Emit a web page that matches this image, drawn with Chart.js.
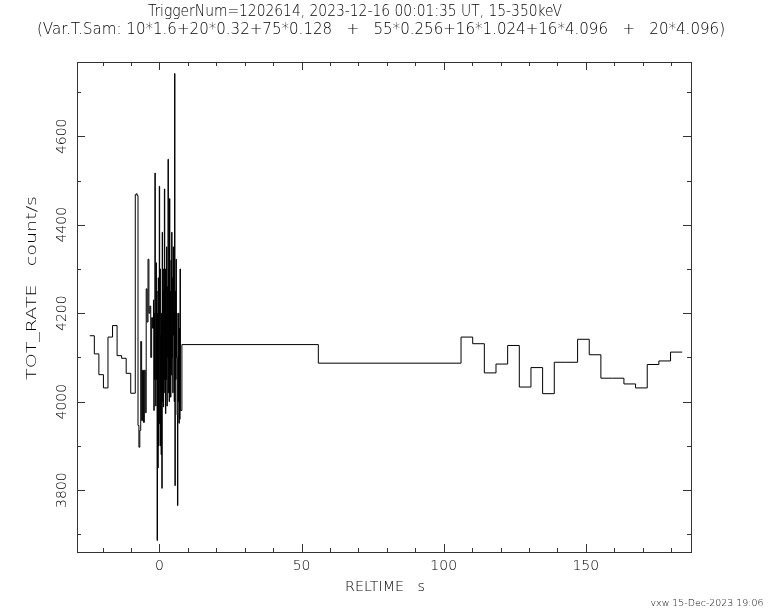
<!DOCTYPE html>
<html>
<head>
<meta charset="utf-8">
<script src="https://cdn.jsdelivr.net/npm/chart.js@4/dist/chart.umd.min.js"></script>
<style>
  body { margin: 0; background: #fff; }
  canvas { display: block; }
</style>
</head>
<body>
<canvas id="grafico" width="768" height="614"></canvas>
<script>
// Amostragem (Var.T.Sam): 10*1.6 + 20*0.32 + 75*0.128, depois bins lentos
const inicioPre = -24.5;
const passos = [1.6, 0.32, 0.128];

const taxaPre = [4149, 4108, 4061, 4031, 4146, 4172, 4104, 4098, 4064, 4019];

const taxa032 = [4468, 4470, 4466, 3946, 3897, 3935, 4136, 3957, 4071, 3953,
                 4071, 3975, 4255, 4180, 4322, 4200, 4216, 4100, 4190, 4166];

const taxa0128 = [4230, 3980, 4200, 4050, 4517, 4100, 3990, 4314, 4050, 4250,
                  3686, 4200, 3850, 4280, 3900, 4150, 4487, 3950, 4300, 3900,
                  4150, 3880, 4200, 3804, 4383, 4000, 4250, 3988, 4300, 4050,
                  4481, 4020, 4300, 3973, 4200, 4050, 4350, 3990, 4260, 4100,
                  4548, 4020, 4300, 4000, 4459, 4080, 4250, 4010, 4320, 4060,
                  4383, 4100, 4280, 4020, 4350, 4150, 4200, 4000, 4742, 3810,
                  4250, 4050, 4322, 4100, 4200, 3970, 3765, 4100, 4000, 4200,
                  3951, 4166, 3960, 4300, 3980];

// bins longos (4.096 s) e os dois trechos planos
const tempoLento = [7.9, 55.9, 106.1, 110.2, 114.3, 118.4, 122.5, 126.6, 130.7, 134.8,
                    138.9, 143.0, 147.1, 151.2, 155.3, 159.4, 163.4, 167.5, 171.6, 175.7,
                    179.8, 183.9];
const taxaLenta = [4129, 4087, 4146, 4131, 4065, 4085, 4127, 4033, 4077, 4018,
                   4089, 4089, 4141, 4106, 4053, 4053, 4040, 4031, 4084, 4092,
                   4112, 4112];

const ticksX = [0, 50, 100, 150];
const ticksY = [3800, 4000, 4200, 4400, 4600];

const titulo1 = 'TriggerNum=1202614, 2023-12-16 00:01:35 UT, 15-350keV';
const titulo2 = '(Var.T.Sam: 10*1.6+20*0.32+75*0.128   +   55*0.256+16*1.024+16*4.096   +   20*4.096)';

// monta os pontos a partir dos bins
let pontos = [];
let t = inicioPre;
[taxaPre, taxa032, taxa0128].forEach((serie, k) => {
  serie.forEach(v => {
    pontos.push({ x: t, y: v });
    t += passos[k];
  });
});
tempoLento.forEach((tl, i) => pontos.push({ x: tl, y: taxaLenta[i] }));

function escreve(ctx, txt, x, y, tam, largura, rot) {
  ctx.save();
  ctx.translate(x, y);
  if (rot) ctx.rotate(-Math.PI / 2);
  ctx.font = '200 ' + tam + 'px "DejaVu Sans"';
  if (largura) {
    let w = ctx.measureText(txt).width;
    ctx.scale(largura / w, 1);
  }
  ctx.textAlign = 'center';
  ctx.textBaseline = 'middle';
  ctx.fillText(txt, 0, 0);
  ctx.restore();
}

// moldura, ticks para dentro e textos no estilo PGPLOT
const eixos = {
  id: 'eixos',
  afterDraw(chart) {
    const { ctx, chartArea: a, scales: { x, y } } = chart;
    ctx.save();
    ctx.strokeStyle = '#333';
    ctx.lineWidth = 1;
    ctx.strokeRect(a.left + 0.5, a.top + 0.5, a.right - a.left, a.bottom - a.top);
    ctx.beginPath();
    for (let v = -20; v <= 180; v += 10) {
      let px = Math.round(x.getPixelForValue(v)) + 0.5;
      let len = v % 50 === 0 ? 8 : 4;
      ctx.moveTo(px, a.bottom); ctx.lineTo(px, a.bottom - len);
      ctx.moveTo(px, a.top); ctx.lineTo(px, a.top + len);
    }
    for (let v = 3700; v <= 4700; v += 100) {
      let py = Math.round(y.getPixelForValue(v)) + 0.5;
      let len = v % 200 === 0 ? 8 : 4;
      ctx.moveTo(a.left, py); ctx.lineTo(a.left + len, py);
      ctx.moveTo(a.right, py); ctx.lineTo(a.right - len, py);
    }
    ctx.stroke();

    ctx.fillStyle = '#000';
    ticksX.forEach(v => escreve(ctx, String(v), x.getPixelForValue(v), 566, 14));
    ticksY.forEach(v => escreve(ctx, String(v), 62, y.getPixelForValue(v), 14, 0, true));
    escreve(ctx, 'RELTIME   s', 385, 587, 14, 80);
    escreve(ctx, 'TOT_RATE   count/s', 32, 288, 14, 184, true);
    escreve(ctx, titulo1, 355, 12, 15, 414);
    escreve(ctx, titulo2, 381, 30, 15, 688);
    escreve(ctx, 'vxw 15-Dec-2023 19:06', 707, 604, 9, 113);
    ctx.restore();
  }
};

new Chart(document.getElementById('grafico').getContext('2d'), {
  type: 'line',
  data: {
    datasets: [{
      data: pontos,
      borderColor: '#000',
      borderWidth: 1,
      pointRadius: 0,
      stepped: true,
      fill: false
    }]
  },
  options: {
    responsive: false,
    animation: false,
    devicePixelRatio: 1,
    layout: { padding: { left: 77, top: 62, right: 77, bottom: 62 } },
    plugins: { legend: { display: false }, tooltip: { enabled: false } },
    scales: {
      x: { type: 'linear', min: -29, max: 187, display: false },
      y: { min: 3660, max: 4768, display: false }
    }
  },
  plugins: [eixos]
});
</script>
</body>
</html>
